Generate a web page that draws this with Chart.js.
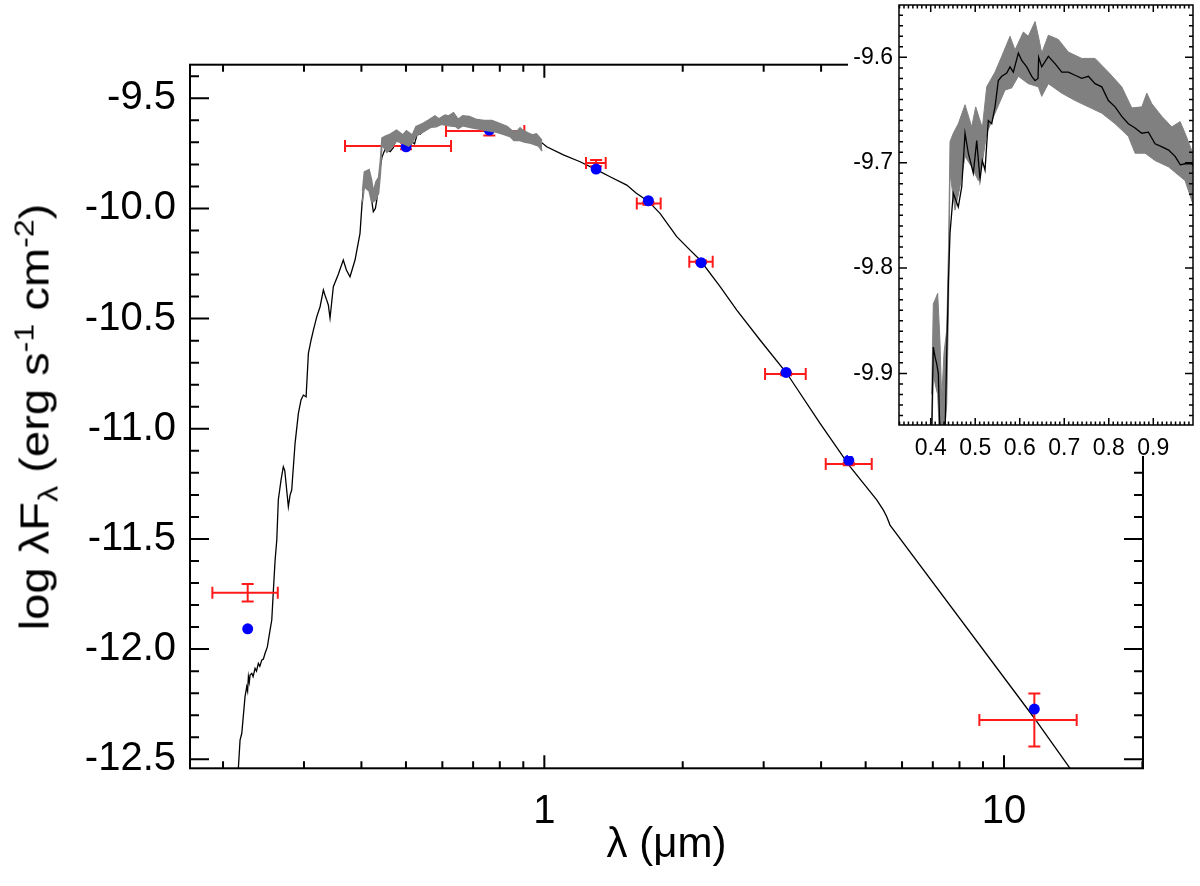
<!DOCTYPE html>
<html>
<head>
<meta charset="utf-8">
<script src="https://cdn.jsdelivr.net/npm/chart.js@4.4.1/dist/chart.umd.min.js"></script>
<style>
html,body{margin:0;padding:0;background:#fff;}
#wrap{position:relative;width:1200px;height:886px;overflow:hidden;background:#fff;}
#main{position:absolute;left:0;top:0;}
#inset{position:absolute;left:848px;top:0;background:#fff;}
#ytitle{position:absolute;left:35px;top:417px;transform:translate(-50%,-50%) rotate(-90deg) scaleX(1.15);white-space:nowrap;
  font-family:"Liberation Sans",Arial,Helvetica,sans-serif;font-size:41px;color:#000;line-height:1;}
#ytitle sub,#ytitle sup{font-size:0.68em;line-height:0;}
</style>
</head>
<body>
<div id="wrap">
<canvas id="main" width="1200" height="886"></canvas>
<canvas id="inset" width="352" height="456"></canvas>
<div id="ytitle">log λF<sub>λ</sub> (erg s<sup>-1</sup> cm<sup>-2</sup>)</div>
</div>
<script>
// ---------------- data ----------------
// model spectrum: wavelength (micron) and log(lambda F_lambda)
const specWave = [0.2125,0.2159,0.2178,0.2197,0.2233,0.2252,0.2262,0.2271,0.2281,0.2290,0.2310,0.2325,0.2348,0.2365,0.2387,0.2405,0.2428,0.2448,0.2469,0.2497,
  0.2531,0.2553,0.2574,0.2596,0.2618,0.2638,0.2674,0.2705,0.2725,0.2774,0.2798,0.2821,0.2869,0.2917,0.2956,0.2991,0.3032,0.3067,0.3109,0.3145,
  0.3199,0.3252,0.3306,0.3340,0.3362,0.3389,0.3418,0.3445,0.3475,0.3558,0.3653,0.3710,0.3778,0.3874,0.3972,0.4015,0.4059,0.4097,0.4135,0.4171,
  0.4209,0.4246,0.4290,0.4321,0.4360,0.4400,0.4434,0.4508,0.4620,0.4697,0.4771,0.4845,0.4957,0.5034,0.5108,0.5160,0.5220,0.5294,0.5371,0.5445,
  0.5519,0.5596,0.5708,0.5782,0.5856,0.5969,0.6045,0.6157,0.6270,0.6344,0.6410,0.6425,0.6494,0.6643,0.6793,0.6944,0.7092,0.7243,0.7393,0.7542,
  0.7692,0.7843,0.7991,0.8142,0.8292,0.8440,0.8591,0.8742,0.8890,0.9040,0.9197,0.9345,0.9490,0.9608,0.9714,0.9866,1.012,1.100,1.196,1.300,
  1.390,1.511,1.583,1.684,1.785,1.941,2.075,2.182,2.412,2.622,2.946,3.368,3.979,4.624,5.285,5.465,5.558,5.649,11.58,13.92,14.63];
const specFlux = [-12.62,-12.545,-12.413,-12.382,-12.216,-12.171,-12.19,-12.125,-12.15,-12.118,-12.11,-12.125,-12.087,-12.10,-12.065,-12.078,-12.05,-12.045,-12.019,-11.99,
  -11.914,-11.868,-11.732,-11.596,-11.505,-11.323,-11.233,-11.172,-11.19,-11.354,-11.301,-11.278,-11.066,-10.93,-10.869,-10.847,-10.855,-10.658,-10.597,-10.552,
  -10.491,-10.446,-10.37,-10.40,-10.416,-10.438,-10.497,-10.43,-10.355,-10.302,-10.234,-10.279,-10.31,-10.234,-10.113,-9.97,-9.875,-9.884,-9.891,-9.90,
  -9.96,-10.015,-10.00,-9.96,-9.88,-9.81,-9.767,-9.729,-9.742,-9.723,-9.672,-9.691,-9.710,-9.679,-9.716,-9.698,-9.707,-9.660,-9.663,-9.647,
  -9.622,-9.618,-9.615,-9.609,-9.614,-9.596,-9.603,-9.609,-9.618,-9.622,-9.620,-9.600,-9.609,-9.599,-9.606,-9.614,-9.614,-9.617,-9.620,-9.618,
  -9.625,-9.628,-9.641,-9.647,-9.656,-9.663,-9.667,-9.672,-9.671,-9.682,-9.685,-9.688,-9.694,-9.702,-9.701,-9.701,-9.720,-9.757,-9.788,-9.825,
  -9.856,-9.894,-9.930,-9.968,-10.022,-10.128,-10.189,-10.234,-10.355,-10.461,-10.597,-10.748,-10.975,-11.172,-11.323,-11.369,-11.399,-11.437,-12.307,-12.541,-12.608];

// uncertainty band of the model (grey)
const bandUpperWave = [0.4022,0.4059,0.4100,0.4157,0.4209,0.4247,0.4300,0.4360,0.4400,0.4434,0.4508,0.4620,0.4771,0.4921,0.5011,0.5160,0.5258,0.5445,0.5596,0.5782,
  0.5894,0.6081,0.6193,0.6344,0.6434,0.6494,0.6643,0.6867,0.7092,0.7393,0.7692,0.7991,0.8292,0.8517,0.8742,0.8854,0.8967,0.9191,0.9416,0.9603,0.9714,0.9888];
const bandUpperFlux = [-9.92,-9.834,-9.83,-9.824,-9.87,-9.925,-9.88,-9.859,-9.78,-9.68,-9.672,-9.663,-9.645,-9.666,-9.647,-9.667,-9.628,-9.614,-9.599,-9.580,
  -9.593,-9.576,-9.580,-9.566,-9.583,-9.596,-9.579,-9.583,-9.595,-9.601,-9.601,-9.614,-9.628,-9.648,-9.647,-9.634,-9.644,-9.656,-9.666,-9.661,-9.672,-9.691];
const bandLowerWave = [0.4022,0.4059,0.4100,0.4157,0.4209,0.4247,0.4300,0.4360,0.4400,0.4434,0.4546,0.4658,0.4771,0.4921,0.5070,0.5160,0.5258,0.5445,0.5670,0.5820,
  0.5969,0.6193,0.6418,0.6494,0.6643,0.6944,0.7243,0.7542,0.7843,0.8142,0.8440,0.8591,0.8816,0.9040,0.9345,0.9570,0.9714,0.9888];
const bandLowerFlux = [-9.97,-9.90,-9.91,-9.92,-9.97,-9.97,-9.96,-9.93,-9.84,-9.710,-9.745,-9.723,-9.694,-9.704,-9.717,-9.700,-9.672,-9.653,-9.631,-9.629,
  -9.618,-9.625,-9.628,-9.637,-9.625,-9.634,-9.641,-9.647,-9.653,-9.663,-9.675,-9.691,-9.691,-9.698,-9.704,-9.712,-9.717,-9.739];

// photometry: observed (red, with errors) and model (blue)
const photWave     = [0.2263,0.5003,0.759,1.296,1.684,2.193,3.357,4.594,11.64];
const photWaveLo   = [0.1896,0.3684,0.611,1.232,1.589,2.067,3.021,4.094,8.838];
const photWaveHi   = [0.2631,0.6267,0.9047,1.360,1.791,2.324,3.704,5.155,14.39];
const photFlux     = [-11.744,-9.7165,-9.648,-9.794,-9.977,-10.242,-10.751,-11.160,-12.322];
const photFluxErr  = [0.040,0.015,0.021,0.014,0.006,0.006,0.006,0.006,0.120];
const modelPhotFlux= [-11.908,-9.72,-9.644,-9.821,-9.965,-10.246,-10.744,-11.143,-12.272];

// axes
const mainXRange = [0.1695, 20.06];
const mainYRange = [-12.541, -9.3475];
const mainXTicks = [1, 10];
const mainXMinorTicks = [0.2,0.3,0.4,0.5,0.6,0.7,0.8,0.9,2,3,4,5,6,7,8,9,20];
const mainYTicks = [-12.5,-12.0,-11.5,-11.0,-10.5,-10.0,-9.5];
const insetXRange = [0.3288, 0.9892];
const insetYRange = [-9.949, -9.5503];
const insetXTicks = [0.4,0.5,0.6,0.7,0.8,0.9];
const insetYTicks = [-9.9,-9.8,-9.7,-9.6];

// ---------------- drawing ----------------
const FONT = '"Liberation Sans", Arial, Helvetica, sans-serif';
Chart.defaults.font.family = FONT;
Chart.defaults.color = '#000';

const pts = (xs, ys) => xs.map((x, i) => ({x: x, y: ys[i]}));
function range(a, b, step) { const out = []; const n = Math.round((b - a) / step); for (let i = 0; i <= n; i++) out.push(+(a + i * step).toFixed(4)); return out; }

function makeFramePlugin(cfg) {
  return {
    id: 'frame',
    afterDraw(chart) {
      const {ctx, chartArea: a} = chart;
      const xs = chart.scales.x, ys = chart.scales.y;
      ctx.save();
      ctx.strokeStyle = '#000';
      ctx.lineWidth = cfg.lw;
      ctx.beginPath();
      const xt = (vals, len) => vals.forEach(v => {
        if (v <= xs.min || v >= xs.max) return;
        const p = xs.getPixelForValue(v);
        ctx.moveTo(p, a.bottom); ctx.lineTo(p, a.bottom - len);
        ctx.moveTo(p, a.top); ctx.lineTo(p, a.top + len);
      });
      const yt = (vals, len) => vals.forEach(v => {
        if (v <= ys.min || v >= ys.max) return;
        const p = ys.getPixelForValue(v);
        ctx.moveTo(a.left, p); ctx.lineTo(a.left + len, p);
        ctx.moveTo(a.right, p); ctx.lineTo(a.right - len, p);
      });
      xt(cfg.xMajor, cfg.xMajorLen); xt(cfg.xMinor, cfg.xMinorLen);
      yt(cfg.yMajor, cfg.yMajorLen); yt(cfg.yMinor, cfg.yMinorLen);
      ctx.stroke();
      ctx.strokeRect(a.left, a.top, a.right - a.left, a.bottom - a.top);
      ctx.restore();
    }
  };
}

const errPlugin = {
  id: 'errbars',
  beforeDatasetDraw(chart, args) {
    if (args.index !== 1) return;
    const {ctx, chartArea: a} = chart;
    const xs = chart.scales.x, ys = chart.scales.y;
    ctx.save();
    ctx.beginPath(); ctx.rect(a.left, a.top, a.right - a.left, a.bottom - a.top); ctx.clip();
    ctx.strokeStyle = '#ff1a1a';
    ctx.lineWidth = 2;
    ctx.beginPath();
    const cap = 6;
    photWave.forEach((w, i) => {
      const xc = xs.getPixelForValue(w);
      const x0 = xs.getPixelForValue(photWaveLo[i]);
      const x1 = xs.getPixelForValue(photWaveHi[i]);
      const yc = ys.getPixelForValue(photFlux[i]);
      const yTop = ys.getPixelForValue(photFlux[i] + photFluxErr[i]);
      const yBot = ys.getPixelForValue(photFlux[i] - photFluxErr[i]);
      ctx.moveTo(x0, yc); ctx.lineTo(x1, yc);
      ctx.moveTo(x0, yc - cap); ctx.lineTo(x0, yc + cap);
      ctx.moveTo(x1, yc - cap); ctx.lineTo(x1, yc + cap);
      ctx.moveTo(xc, yTop); ctx.lineTo(xc, yBot);
      ctx.moveTo(xc - cap, yTop); ctx.lineTo(xc + cap, yTop);
      ctx.moveTo(xc - cap, yBot); ctx.lineTo(xc + cap, yBot);
    });
    ctx.stroke();
    ctx.restore();
  }
};

const GREY = '#808080';

// ----- main chart -----
new Chart(document.getElementById('main'), {
  type: 'line',
  data: {
    datasets: [
      { label: 'model spectrum', data: pts(specWave, specFlux), borderColor: '#000', borderWidth: 1.3,
        pointRadius: 0, fill: false, tension: 0, order: 3 },
      { label: 'model photometry', data: pts(photWave, modelPhotFlux), showLine: false,
        pointRadius: 5.5, pointBackgroundColor: '#0000ff', pointBorderColor: '#0000ff', pointBorderWidth: 0, order: 2 },
      { label: 'band upper', data: pts(bandUpperWave, bandUpperFlux), borderColor: GREY, borderWidth: 1.5,
        pointRadius: 0, fill: false, tension: 0, order: 1 },
      { label: 'band lower', data: pts(bandLowerWave, bandLowerFlux), borderColor: GREY, borderWidth: 1.5,
        backgroundColor: GREY, pointRadius: 0, fill: {target: 2}, tension: 0, order: 1 }
    ]
  },
  options: {
    responsive: false, animation: false, devicePixelRatio: 1,
    layout: { padding: { left: 0, top: 64.7, right: 57, bottom: 0 } },
    plugins: { legend: { display: false }, tooltip: { enabled: false }, filler: { propagate: false } },
    scales: {
      x: {
        type: 'logarithmic', min: mainXRange[0], max: mainXRange[1],
        grid: { display: false, drawTicks: false, tickLength: 0 }, border: { display: false },
        afterBuildTicks: s => { s.ticks = mainXTicks.map(v => ({ value: v })); },
        afterFit: s => { s.height = 886 - 768.3; s.paddingLeft = 0; s.paddingRight = 0; },
        ticks: { font: { size: 40 }, color: '#000', padding: 20, maxRotation: 0, autoSkip: false,
                 callback: v => String(v) },
        title: { display: true, text: 'λ (μm)', font: { size: 42 }, color: '#000', padding: { top: 0, bottom: 15 } }
      },
      y: {
        type: 'linear', min: mainYRange[0], max: mainYRange[1],
        grid: { display: false, drawTicks: false, tickLength: 0 }, border: { display: false },
        afterBuildTicks: s => { s.ticks = mainYTicks.map(v => ({ value: v })); },
        afterFit: s => { s.width = 190; s.paddingTop = 0; s.paddingBottom = 0; },
        ticks: { font: { size: 40 }, color: '#000', padding: 14, autoSkip: false,
                 callback: v => Number(v).toFixed(1) }
      }
    }
  },
  plugins: [errPlugin, makeFramePlugin({
    lw: 2, xMajor: mainXTicks, xMajorLen: 13, xMinor: mainXMinorTicks, xMinorLen: 7,
    yMajor: mainYTicks, yMajorLen: 19, yMinor: range(-12.5, -9.4, 0.1), yMinorLen: 9
  })]
});

// ----- inset chart -----
new Chart(document.getElementById('inset'), {
  type: 'line',
  data: {
    datasets: [
      { label: 'model spectrum', data: pts(specWave, specFlux), borderColor: '#000', borderWidth: 1.3,
        pointRadius: 0, fill: false, tension: 0, order: 1 },
      { label: 'band upper', data: pts(bandUpperWave, bandUpperFlux), borderColor: GREY, borderWidth: 1,
        pointRadius: 0, fill: false, tension: 0, order: 2 },
      { label: 'band lower', data: pts(bandLowerWave, bandLowerFlux), borderColor: GREY, borderWidth: 1,
        backgroundColor: GREY, pointRadius: 0, fill: {target: 1}, tension: 0, order: 2 }
    ]
  },
  options: {
    responsive: false, animation: false, devicePixelRatio: 1,
    layout: { padding: { left: 0, top: 5, right: 7, bottom: 0 } },
    plugins: { legend: { display: false }, tooltip: { enabled: false } },
    scales: {
      x: {
        type: 'linear', min: insetXRange[0], max: insetXRange[1],
        grid: { display: false, drawTicks: false, tickLength: 0 }, border: { display: false },
        afterBuildTicks: s => { s.ticks = insetXTicks.map(v => ({ value: v })); },
        afterFit: s => { s.height = 456 - 425; s.paddingLeft = 0; s.paddingRight = 0; },
        ticks: { font: { size: 23 }, color: '#000', padding: 10, maxRotation: 0, autoSkip: false,
                 callback: v => Number(v).toFixed(1) }
      },
      y: {
        type: 'linear', min: insetYRange[0], max: insetYRange[1],
        grid: { display: false, drawTicks: false, tickLength: 0 }, border: { display: false },
        afterBuildTicks: s => { s.ticks = insetYTicks.map(v => ({ value: v })); },
        afterFit: s => { s.width = 51; s.paddingTop = 0; s.paddingBottom = 0; },
        ticks: { font: { size: 23 }, color: '#000', padding: 6, autoSkip: false,
                 callback: v => Number(v).toFixed(1) }
      }
    }
  },
  plugins: [makeFramePlugin({
    lw: 1.5, xMajor: insetXTicks, xMajorLen: 7, xMinor: range(0.33, 0.98, 0.01), xMinorLen: 3.5,
    yMajor: insetYTicks, yMajorLen: 8, yMinor: range(-9.94, -9.56, 0.01), yMinorLen: 4
  })]
});
</script>
</body>
</html>
